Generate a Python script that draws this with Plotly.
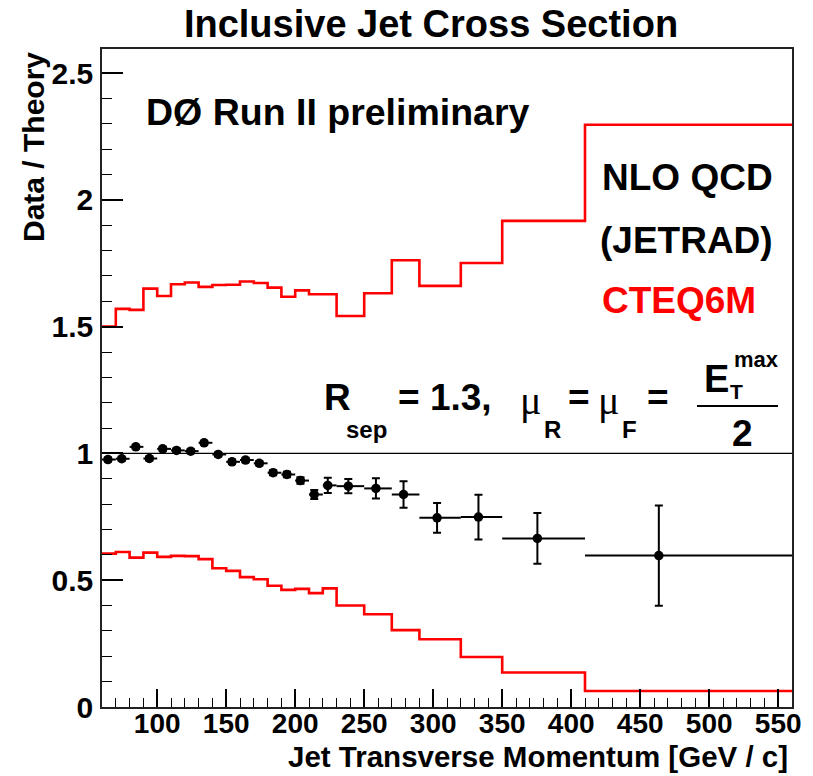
import plotly.graph_objects as go

# Jet pT bin edges [GeV/c]
bin_edges = [60, 70, 80, 90, 100, 110, 120, 130, 140, 150, 160, 170, 180,
             190, 200, 210, 220, 230, 250, 270, 290, 320, 350, 410, 560]

# Theory uncertainty band edges (ratio to NLO QCD)
theory_upper = [1.500, 1.570, 1.566, 1.650, 1.621, 1.667, 1.674, 1.657,
                1.664, 1.665, 1.678, 1.672, 1.654, 1.618, 1.643, 1.628,
                1.628, 1.542, 1.632, 1.762, 1.661, 1.751, 1.917, 2.296]
theory_lower = [0.605, 0.611, 0.589, 0.609, 0.592, 0.596, 0.595, 0.583,
                0.547, 0.537, 0.512, 0.504, 0.478, 0.462, 0.466, 0.449,
                0.468, 0.400, 0.366, 0.303, 0.267, 0.197, 0.136, 0.063]

# Measured data / theory
pt_mean = [64.3, 74.3, 84.5, 94.3, 104.0, 114.0, 124.3, 134.0, 144.2, 154.2,
           164.0, 174.0, 184.0, 194.0, 203.8, 213.8, 223.6, 238.5, 258.5,
           278.5, 302.8, 332.8, 375.5, 463.5]
ratio = [0.976, 0.979, 1.026, 0.980, 1.018, 1.012, 1.009, 1.042, 0.996,
         0.967, 0.974, 0.961, 0.924, 0.917, 0.893, 0.838, 0.874, 0.871,
         0.862, 0.838, 0.746, 0.749, 0.665, 0.597]
ratio_err = [0.008, 0.008, 0.008, 0.008, 0.008, 0.008, 0.008, 0.008, 0.008,
             0.009, 0.009, 0.009, 0.010, 0.011, 0.013, 0.018, 0.030, 0.028,
             0.040, 0.052, 0.059, 0.088, 0.100, 0.198]

FONT = "Liberation Sans, Arial, Helvetica, sans-serif"
W, H = 813, 776
L, R, T, B = 102, 21, 49, 69
PW, PH = W - L - R, H - T - B


def px(x):
    return (x - L) / PW


def py(y):
    return (H - B - y) / PH


fig = go.Figure()

# step histograms for the theory band
for vals in (theory_upper, theory_lower):
    fig.add_trace(go.Scatter(
        x=bin_edges, y=vals + [vals[-1]], mode="lines",
        line=dict(color="#ff0000", width=2.6, shape="hv"),
        hoverinfo="skip", showlegend=False))

# data points with bin-width horizontal bars
lo_edges = []
hi_edges = []
for x in pt_mean:
    for i in range(len(bin_edges) - 1):
        if bin_edges[i] <= x < bin_edges[i + 1]:
            lo_edges.append(x - bin_edges[i])
            hi_edges.append(bin_edges[i + 1] - x)
            break

fig.add_trace(go.Scatter(
    x=pt_mean, y=ratio, mode="markers",
    marker=dict(color="black", size=9.5, symbol="circle"),
    error_y=dict(type="data", array=ratio_err, color="black",
                 thickness=2, width=4),
    error_x=dict(type="data", symmetric=False, array=hi_edges,
                 arrayminus=lo_edges, color="black", thickness=2, width=0),
    showlegend=False))

fig.add_shape(type="line", xref="paper", yref="y", x0=0, x1=1, y0=1, y1=1,
              line=dict(color="black", width=1.2), layer="below")

annotations = []


def text(s, x, y, size=37, color="black", anchor="left", bold=True,
         family=FONT, angle=0):
    annotations.append(dict(
        text=s, x=px(x), y=py(y), xref="paper", yref="paper",
        xanchor=anchor, yanchor="middle", showarrow=False, textangle=angle,
        font=dict(family=family, size=size, color=color,
                  weight="bold" if bold else "normal")))


text("DØ Run II preliminary", 144, 112, size=37.5)
text("NLO QCD", 600, 178)
text("(JETRAD)", 598, 240)
text("CTEQ6M", 600, 300, color="#ff0000")

# R_sep = 1.3,  mu_R = mu_F = E_T^max / 2
text("R", 322, 397)
text("sep", 344, 429, size=24)
text("= 1.3,", 396, 397)
text("μ", 518, 400, size=40, bold=False, family="Liberation Serif, serif")
text("R", 542, 429, size=24)
text("=", 566, 397)
text("μ", 596, 400, size=40, bold=False, family="Liberation Serif, serif")
text("F", 620, 429, size=24)
text("=", 645, 397)
text("E", 702, 379, size=38)
text("T", 728, 392, size=21)
text("max", 732, 359, size=22)
text("2", 742, 433, anchor="center")
fig.add_shape(type="line", xref="paper", yref="paper",
              x0=px(697), x1=px(778), y0=py(406), y1=py(406),
              line=dict(color="black", width=2))

# axis titles
text("Data / Theory", 33, 147, size=30, anchor="center", angle=-90)
text("Jet Transverse Momentum [GeV / c]", 790, 756, size=29.5,
     anchor="right")

fig.update_layout(
    width=W, height=H,
    margin=dict(l=L, r=R, t=T, b=B, pad=0),
    paper_bgcolor="white", plot_bgcolor="white",
    title=dict(text="Inclusive Jet Cross Section", x=431 / W, y=1 - 24 / H,
               xref="container", yref="container",
               xanchor="center", yanchor="middle",
               font=dict(family=FONT, size=38, color="black", weight="bold")),
    annotations=annotations,
    showlegend=False,
)

fig.update_xaxes(
    range=[60, 560], showgrid=False, zeroline=False,
    showline=True, linecolor="#222", linewidth=1.5, mirror=True,
    ticks="inside", ticklen=18, tickwidth=1.5, tickcolor="black",
    tickvals=[100, 150, 200, 250, 300, 350, 400, 450, 500, 550],
    tickfont=dict(family=FONT, size=28, color="black", weight="bold"),
    ticklabelstandoff=-9,
    minor=dict(ticks="inside", ticklen=9, tickwidth=1.2, tickcolor="black",
               dtick=10, tick0=60, showgrid=False),
)
fig.update_yaxes(
    range=[0, 2.595], showgrid=False, zeroline=False,
    showline=True, linecolor="#222", linewidth=1.5, mirror=True,
    ticks="inside", ticklen=21, tickwidth=1.5, tickcolor="black",
    tickvals=[0, 0.5, 1, 1.5, 2, 2.5],
    ticktext=["0", "0.5", "1", "1.5", "2", "2.5"],
    tickfont=dict(family=FONT, size=30, color="black", weight="bold"),
    ticklabelstandoff=1,
    minor=dict(ticks="inside", ticklen=10.5, tickwidth=1.2, tickcolor="black",
               dtick=0.1, tick0=0, showgrid=False),
)

fig.write_html("out.html")
